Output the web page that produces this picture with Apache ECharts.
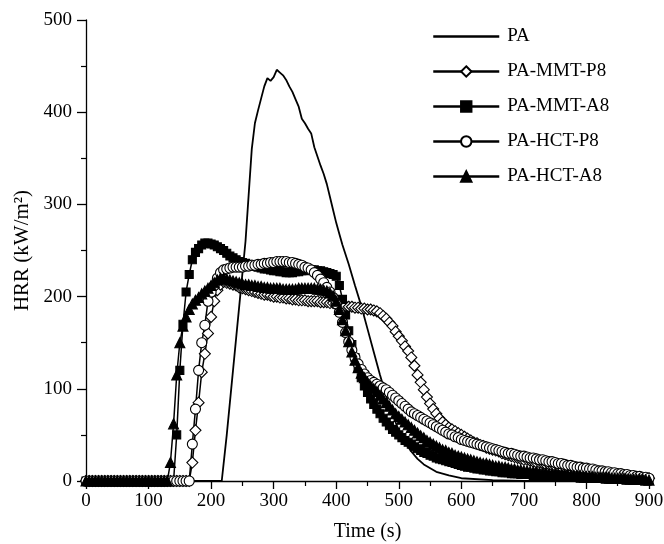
<!DOCTYPE html>
<html><head><meta charset="utf-8">
<script src="https://cdn.jsdelivr.net/npm/echarts@6/dist/echarts.min.js"></script>
<style>html,body{margin:0;padding:0;background:#fff}#c{width:664px;height:544px}</style>
</head><body><div id="c"></div>
<script>
// sample times (s) for marker series
const time = [
0,5,10,15,20,25,30,35,40,45,50,55,60,65,70,75,80,85,90,95,
100,105,110,115,120,125,130,135,140,145,150,155,160,165,170,175,180,185,190,195,
200,205,210,215,220,225,230,235,240,245,250,255,260,265,270,275,280,285,290,295,
300,305,310,315,320,325,330,335,340,345,350,355,360,365,370,375,380,385,390,395,
400,405,410,415,420,425,430,435,440,445,450,455,460,465,470,475,480,485,490,495,
500,505,510,515,520,525,530,535,540,545,550,555,560,565,570,575,580,585,590,595,
600,605,610,615,620,625,630,635,640,645,650,655,660,665,670,675,680,685,690,695,
700,705,710,715,720,725,730,735,740,745,750,755,760,765,770,775,780,785,790,795,
800,805,810,815,820,825,830,835,840,845,850,855,860,865,870,875,880,885,890,895,
900];

const paTime = [0,50,100,150,200,217,225,230,235,240,245,250,255,260,265,270,275,280,285,290,295,300,305,310,315,320,325,330,335,340,345,350,355,360,365,370,375,380,385,390,395,400,405,410,420,430,440,450,460,470,480,490,500,510,520,530,540,560,580,600,650,700,750,800,850,900];
const paHRR = [0,0,0,0,0,0,50,85,120,155,190,225,260,310,360,388,402,415,428,437,434,438,446,443,440,435,428,422,414,406,393,388,382,377,362,352,342,333,322,308,294,280,268,256,235,212,190,165,140,115,92,72,55,42,32,24,18,10,6,3,1,0,0,0,0,0];

const mmtP8 = [
0,0,0,0,0,0,0,0,0,0,0,0,0,0,0,0,0,0,0,0,
0,0,0,0,0,0,0,0,0,0,0,0,0,0,20,55,85,118,138,160,
178,195,207,213,216,215,214,213,212,210,209,208,207,206,205,204,203,202,202,201,
200,200,199,199,198,198,197,197,196,196,196,195,195,195,195,194,194,194,193,193,
192,191,190,190,189,189,188,188,187,187,186,186,185,184,182,179,176,172,168,162,
157,152,146,141,134,125,115,107,99,91,84,78,73,68,64,61,58,56,54,52,
50,48,46,44,42,41,39,38,36,35,34,33,32,30,29,28,27,26,25,24,
23,23,22,21,20,20,19,18,18,17,16,16,15,15,14,13,13,12,12,11,
11,10,10,9,9,8,8,7,7,6,6,6,5,5,4,4,4,3,3,3,
3];

const mmtA8 = [
0,0,0,0,0,0,0,0,0,0,0,0,0,0,0,0,0,0,0,0,
0,0,0,0,0,0,0,0,0,50,120,170,205,224,240,248,252,256,258,258,
257,256,254,252,250,247,244,242,240,238,237,236,235,234,233,232,231,230,230,229,
228,228,227,227,226,226,226,227,227,228,228,229,229,229,228,228,227,226,225,224,
222,212,197,180,163,148,134,122,112,103,96,89,83,78,73,68,64,60,56,53,
50,47,44,42,40,37,35,33,31,30,28,27,25,24,23,22,21,20,19,18,
17,16,15,15,14,13,13,12,12,11,11,10,10,9,9,9,8,8,8,7,
7,7,7,6,6,6,6,5,5,5,5,5,4,4,4,4,4,4,3,3,
3,3,3,3,3,3,2,2,2,2,2,2,2,2,2,1,1,1,1,1,
1];

const hctP8 = [
0,0,0,0,0,0,0,0,0,0,0,0,0,0,0,0,0,0,0,0,
0,0,0,0,0,0,0,0,0,0,0,0,0,0,40,78,120,150,169,195,
205,212,220,226,229,230,231,232,232,232,232,233,233,234,234,235,235,236,236,237,
237,238,238,238,238,237,237,236,235,234,232,231,229,226,223,219,215,210,205,199,
192,183,172,161,151,142,134,127,121,116,112,109,107,105,103,101,99,96,93,90,
87,84,81,78,75,73,71,69,67,65,63,61,59,57,55,53,51,50,48,47,
45,44,43,42,41,40,39,38,37,36,35,34,33,32,31,30,30,29,28,27,
27,26,25,25,24,23,23,22,21,21,20,19,19,18,17,17,16,15,15,14,
14,13,13,12,11,11,10,10,9,9,8,8,7,7,6,6,5,5,4,4,
3];

const hctA8 = [
0,0,0,0,0,0,0,0,0,0,0,0,0,0,0,0,0,0,0,0,
0,0,0,0,0,0,0,20,62,115,150,168,178,186,192,196,199,203,206,209,
212,215,218,220,220,219,218,217,216,215,214,213,213,212,212,211,211,210,210,209,
209,209,209,208,208,208,208,208,209,209,209,209,209,209,208,208,207,206,204,201,
195,186,175,163,151,140,131,123,117,112,107,103,100,97,93,89,85,81,77,73,
70,67,64,61,58,55,52,49,47,44,42,40,38,36,34,33,31,30,28,27,
26,25,24,23,22,21,20,19,19,18,17,16,16,15,15,14,13,13,12,12,
11,11,10,10,10,9,9,9,8,8,8,7,7,7,7,6,6,6,6,5,
5,5,5,4,4,4,4,4,3,3,3,3,3,2,2,2,2,2,2,1,
1];

const names = ['PA','PA-MMT-P8','PA-MMT-A8','PA-HCT-P8','PA-HCT-A8'];

const font = 'Liberation Serif';
const pair = (ts, vs) => ts.map((t, i) => [t, vs[i]]);

function markerSeries(name, vals, symbol, size, fill) {
  return {
    name, type: 'line', data: pair(time, vals),
    symbol, symbolSize: size, showAllSymbol: true,
    lineStyle: { color: '#000', width: 1.5 },
    itemStyle: { color: fill, borderColor: '#000', borderWidth: 1.1 },
    emphasis: { disabled: true }, animation: false
  };
}

const chart = echarts.init(document.getElementById('c'));
chart.setOption({
  backgroundColor: '#fff',
  animation: false,
  grid: { left: 86, right: 15, top: 20, bottom: 63, outerBoundsMode: 'none', containLabel: false },
  legend: {
    orient: 'vertical', left: 427, top: 22, itemWidth: 66, itemHeight: 13, itemGap: 16,
    data: [
      { name: names[0], itemStyle: { opacity: 0, color: 'rgba(0,0,0,0)', borderColor: 'rgba(0,0,0,0)' } },
      names[1], names[2], names[3], names[4]
    ],
    textStyle: { fontFamily: font, fontSize: 19, color: '#000', padding: [0, 0, 0, 3] },
    lineStyle: { width: 2.5 }
  },
  xAxis: {
    type: 'value', min: 0, max: 900, interval: 100,
    name: 'Time (s)', nameLocation: 'middle', nameGap: 41,
    nameTextStyle: { fontFamily: font, fontSize: 20, color: '#000' },
    axisLine: { onZero: false, lineStyle: { color: '#000', width: 1.3 } },
    axisTick: { show: true, inside: false, length: 8, lineStyle: { color: '#000', width: 1.3 } },
    minorTick: { show: true, splitNumber: 2, length: 5, lineStyle: { color: '#000', width: 1.2 } },
    axisLabel: { fontFamily: font, fontSize: 19, color: '#000', margin: 11 },
    splitLine: { show: false }
  },
  yAxis: {
    type: 'value', min: 0, max: 500, interval: 100,
    name: 'HRR (kW/m²)', nameLocation: 'middle', nameGap: 47, nameRotate: 90,
    nameTextStyle: { fontFamily: font, fontSize: 21, color: '#000' },
    axisLine: { show: true, lineStyle: { color: '#000', width: 1.3 } },
    axisTick: { show: true, inside: false, length: 9, lineStyle: { color: '#000', width: 1.3 } },
    minorTick: { show: true, splitNumber: 2, length: 5, lineStyle: { color: '#000', width: 1.2 } },
    axisLabel: { fontFamily: font, fontSize: 19, color: '#000', margin: 14 },
    splitLine: { show: false }
  },
  series: [
    { name: names[0], type: 'line', data: pair(paTime, paHRR), symbol: 'none',
      lineStyle: { color: '#000', width: 1.8 }, itemStyle: { color: 'rgba(0,0,0,0)' }, animation: false },
    markerSeries(names[1], mmtP8, 'diamond', 11, '#fff'),
    markerSeries(names[2], mmtA8, 'rect', 8, '#000'),
    markerSeries(names[3], hctP8, 'circle', 10, '#fff'),
    markerSeries(names[4], hctA8, 'triangle', 10, '#000')
  ]
});
</script>
</body></html>
